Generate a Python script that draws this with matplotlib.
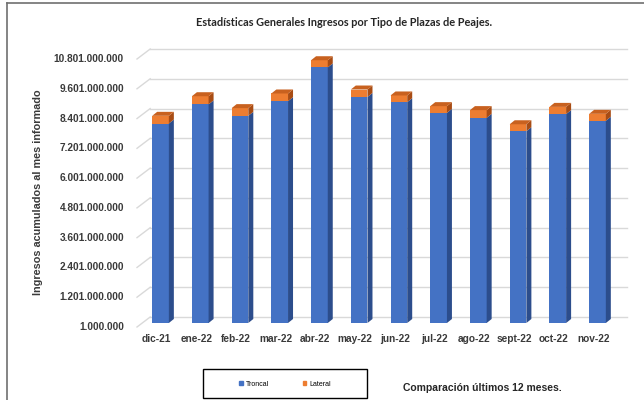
import matplotlib
matplotlib.use("Agg")
import matplotlib.pyplot as plt
import matplotlib.transforms as mtransforms
from matplotlib.patches import Polygon, Rectangle, Patch
from matplotlib.lines import Line2D

plt.rcParams['font.family'] = ['Liberation Sans', 'DejaVu Sans']

meses = ["dic-21", "ene-22", "feb-22", "mar-22", "abr-22", "may-22",
         "jun-22", "jul-22", "ago-22", "sept-22", "oct-22", "nov-22"]
troncal = [8.04e9, 8.81e9, 8.35e9, 8.94e9, 10.30e9, 9.11e9,
           8.90e9, 8.47e9, 8.27e9, 7.73e9, 8.42e9, 8.15e9]
lateral = [0.31e9, 0.33e9, 0.31e9, 0.31e9, 0.29e9, 0.30e9,
           0.27e9, 0.27e9, 0.31e9, 0.28e9, 0.29e9, 0.28e9]
y_ticks = [1000000, 1201000000, 2401000000, 3601000000, 4801000000,
           6001000000, 7201000000, 8401000000, 9601000000, 10801000000]
y_labels = ["1.000.000", "1.201.000.000", "2.401.000.000", "3.601.000.000",
            "4.801.000.000", "6.001.000.000", "7.201.000.000", "8.401.000.000",
            "9.601.000.000", "10.801.000.000"]

W, H = 644, 400
fig = plt.figure(figsize=(W / 100, H / 100), dpi=100)


def box(x0, y0, x1, y1):
    # pixel box (y measured from the top) -> figure fraction rect
    return [x0 / W, 1 - y1 / H, (x1 - x0) / W, (y1 - y0) / H]


def shift(dx, dy):
    return mtransforms.ScaledTranslation(dx / 100, dy / 100, fig.dpi_scale_trans)


ax = fig.add_axes(box(140.65, 55, 617.35, 323))
ax.set_xlim(-0.5, 11.5)
ax.set_ylim(y_ticks[0], y_ticks[-1])
ax.patch.set_alpha(0)
for s in ax.spines.values():
    s.set_visible(False)

# back wall grid
grid_tr = ax.get_yaxis_transform() + shift(0, 6)
for t in y_ticks:
    ax.plot([0.02, 1.02], [t, t], transform=grid_tr, color="#d9d9d9",
            lw=1, clip_on=False, zorder=0)

x = list(range(len(meses)))
w = 0.42
tot = [a + b for a, b in zip(troncal, lateral)]
ax.bar(x, troncal, width=w, color="#4472C4", zorder=2, label="Troncal")
ax.bar(x, lateral, width=w, bottom=troncal, color="#ED7D31", zorder=2,
       label="Lateral")

ax.set_yticks(y_ticks, y_labels, fontweight="bold")
ax.set_xticks(x, meses, fontweight="bold")
ax.tick_params(axis="y", length=0, pad=12, labelsize=7.3, labelcolor="#3a3a3a")
ax.tick_params(axis="x", length=0, pad=8, labelsize=7.3, labelcolor="#3a3a3a")
for lab in ax.get_yticklabels():
    lab.set_transform(lab.get_transform() + shift(0, -3))
for lab in ax.get_xticklabels():
    lab.set_transform(lab.get_transform() + shift(-4, 0))

# pseudo 3d faces, in pixels
ident = mtransforms.IdentityTransform()
yax = ax.get_yaxis_transform()
xl = (137 - 140.65) / 476.7
for t in y_ticks:
    p0 = yax.transform((xl, t)) + [0, -4]
    p1 = yax.transform((0.02, t)) + [0, 6]
    fig.add_artist(Line2D([p0[0], p1[0]], [p0[1], p1[1]], transform=ident,
                          color="#d9d9d9", lw=1))

d = [5, 4]
for i in x:
    xr = i + w / 2
    xlft = i - w / 2
    a = ax.transData.transform((xr, y_ticks[0]))
    b = ax.transData.transform((xr, troncal[i]))
    c = ax.transData.transform((xr, tot[i]))
    e = ax.transData.transform((xlft, tot[i]))
    fig.add_artist(Polygon([a, a + d, b + d, b], transform=ident,
                           facecolor="#2C4D8C", edgecolor="none"))
    fig.add_artist(Polygon([b, b + d, c + d, c], transform=ident,
                           facecolor="#A84C14", edgecolor="none"))
    fig.add_artist(Polygon([e, c, c + d, e + d], transform=ident,
                           facecolor="#C8611F", edgecolor="none"))

fig.text(38 / W, 1 - 192 / H, "Ingresos acumulados al mes informado",
         rotation=90, ha="center", va="center", fontsize=7.8,
         fontweight="bold", color="#3a3a3a")

fig.text(344.5 / W, 1 - 22 / H,
         "Estadísticas Generales Ingresos por Tipo de Plazas de Peajes.",
         ha="center", va="center", fontsize=7.9, fontweight="bold",
         color="#262626", family=["Lato", "DejaVu Sans"])

fig.text(403 / W, 1 - 388 / H, "Comparación últimos 12 meses.",
         ha="left", va="center", fontsize=7.5, fontweight="bold",
         color="#262626")

# legend box
fig.add_artist(Rectangle((203 / W, 1 - 398 / H), 164 / W, 29 / H,
                         transform=fig.transFigure, fill=False,
                         edgecolor="#000000", lw=1))
handles = [Patch(color="#4472C4"), Patch(color="#ED7D31")]
fig.legend(handles, ["Troncal", "Lateral"], loc="center",
           bbox_to_anchor=(285 / W, 1 - 384 / H), ncol=2, frameon=False,
           fontsize=5, handlelength=0.5, handleheight=0.5,
           handletextpad=0.4, columnspacing=4.9)

# outer frame
fig.add_artist(Line2D([6.5 / W, 6.5 / W], [0, 1 - 3 / H], color="#707070",
                      lw=1.2, transform=fig.transFigure))
fig.add_artist(Line2D([6.5 / W, 1], [1 - 3 / H, 1 - 3 / H], color="#707070",
                      lw=1.2, transform=fig.transFigure))

fig.savefig("out.png", dpi=100)
